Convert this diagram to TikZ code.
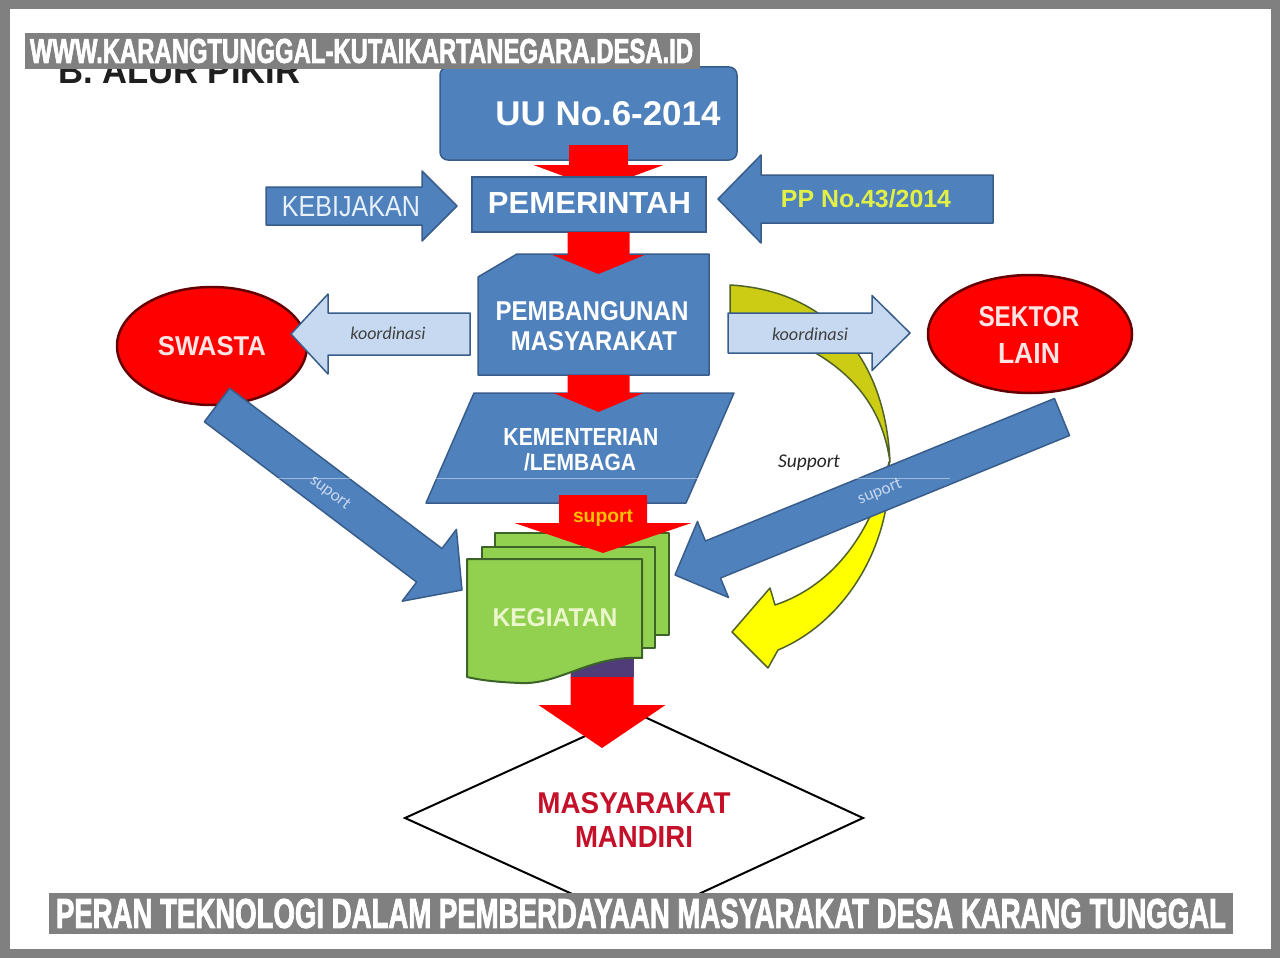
\documentclass[tikz,border=0pt]{standalone}
\usepackage{fontspec}
\usepackage{graphicx}
\setmainfont{Liberation Sans}
\newfontfamily\carl{Carlito}
\newfontfamily\heavy[FakeBold=2.5]{Liberation Sans}
\usetikzlibrary{calc,shapes.geometric}
\definecolor{bfill}{RGB}{79,129,189}
\definecolor{bline}{RGB}{56,93,138}
\definecolor{lbfill}{RGB}{198,217,241}
\definecolor{rfill}{RGB}{255,0,0}
\definecolor{rline}{RGB}{100,0,0}
\definecolor{gfill}{RGB}{146,208,80}
\definecolor{gline}{RGB}{60,100,40}
\definecolor{yfill}{RGB}{255,255,0}
\definecolor{ofill}{RGB}{204,204,20}
\definecolor{yline}{RGB}{79,98,40}
\definecolor{framegray}{RGB}{128,128,128}
\definecolor{mred}{RGB}{196,16,40}
\definecolor{ppy}{RGB}{226,240,70}
\definecolor{supc}{RGB}{255,192,0}
\definecolor{shadeblue}{RGB}{80,60,120}
\newcommand{\fitt}[3]{\resizebox{#1}{#2}{#3}}
% style, start, tip, half shaft, half head, head length
\newcommand{\blockarr}[6]{%
  \coordinate (ba-h) at ($(#3)!#6!(#2)$);
  \path[#1] ($(#2)!#4!90:(#3)$) -- ($(ba-h)!#4!-90:(#2)$) -- ($(ba-h)!#5!-90:(#2)$) -- (#3)
    -- ($(ba-h)!#5!90:(#2)$) -- ($(ba-h)!#4!90:(#2)$) -- ($(#2)!#4!-90:(#3)$) -- cycle;}
\tikzset{
  bluesh/.style={fill=bfill, draw=bline, line width=1.5pt, line join=round},
  bluearr/.style={fill=bfill, draw=bline, line width=1.5pt, line join=round},
  lbarr/.style={fill=lbfill, draw=bline, line width=1.5pt, line join=round},
  redarr/.style={fill=rfill, draw=none},
  greensh/.style={fill=gfill, draw=gline, line width=2pt, line join=round},
  yel/.style={draw=yline, line width=1.5pt, line join=round},
  redell/.style={ellipse, fill=rfill, draw=rline, line width=2.5pt, inner sep=0pt},
  bluebox/.style={rectangle, fill=bfill, draw=bline, line width=1.5pt, inner sep=0pt},
  lbl/.style={inner sep=0pt, anchor=center}
}
\begin{document}
\begin{tikzpicture}[x=1pt,y=-1pt]
\useasboundingbox (0,0) rectangle (1280,958);
\fill[framegray] (0,0) rectangle (1280,958);
\fill[white] (10,9) rectangle (1271,949);

% title under banner
\node[lbl, anchor=base west, text=black!88] (alur) at (58,83) {\fitt{242pt}{25pt}{\bfseries B. ALUR PIKIR}};

% UU box
\node[bluebox, minimum width=297pt, minimum height=93pt, rounded corners=8pt] (uu) at (588.5,113.5) {};
\node[lbl, text=white] (uutxt) at (608,114) {\fitt{225pt}{24pt}{\bfseries UU No.6-2014}};
\blockarr{redarr}{598.5,145}{598.5,189}{29.5pt}{65pt}{24pt}

% PEMERINTAH
\node[bluebox, minimum width=234pt, minimum height=55pt] (pem) at (589,204.5) {};
\node[lbl, text=white] (pemtxt) at (589.5,202.5) {\fitt{203pt}{21pt}{\bfseries PEMERINTAH}};

% KEBIJAKAN and PP arrows
\blockarr{bluearr}{266,206}{457,206}{19pt}{35pt}{35pt}
\node[lbl, text={rgb,255:red,232;green,240;blue,250}] (kebtxt) at (351,207) {\fitt{138pt}{20pt}{KEBIJAKAN}};
\blockarr{bluearr}{993,199}{718,199}{24pt}{44pt}{43pt}
\node[lbl, text=ppy] (pptxt) at (866,199) {\fitt{170pt}{18pt}{\bfseries PP No.43/2014}};

% PEMBANGUNAN MASYARAKAT
\draw[bluesh] (478,277) -- (517,254) -- (709,254) -- (709,375) -- (478,375) -- cycle;
\blockarr{redarr}{598.5,232}{598.5,274}{31pt}{46pt}{19pt}
\node[lbl, text=white] (pb1) at (592,311) {\fitt{193pt}{19pt}{\bfseries PEMBANGUNAN}};
\node[lbl, text=white] (pb2) at (594,341) {\fitt{166pt}{19pt}{\bfseries MASYARAKAT}};

% yellow curved arrow
\draw[yel, fill=ofill] (730,285) .. controls (820,290) and (885,350) .. (890,462)
   .. controls (880,390) and (830,345) .. (730,320) -- cycle;
\draw[yel, fill=yfill] (889,462) .. controls (893,545) and (845,622) .. (778,650)
   -- (768,668) -- (732,632) -- (770,588) -- (775,605)
   .. controls (835,585) and (873,530) .. (889,462) -- cycle;
\node[lbl, text=black!85] (supp) at (809,463) {\fitt{62pt}{!}{\carl\itshape Support}};

% ellipses
\node[redell, minimum width=190pt, minimum height=118pt] (swasta) at (212,346) {};
\node[lbl, text={rgb,255:red,255;green,228;blue,228}] (swtxt) at (212,346) {\fitt{108pt}{19pt}{\bfseries SWASTA}};
\node[redell, minimum width=204pt, minimum height=118pt] (sektor) at (1030,334) {};
\node[lbl, text={rgb,255:red,255;green,228;blue,228}] (sk1) at (1029,317) {\fitt{101pt}{20pt}{\bfseries SEKTOR}};
\node[lbl, text={rgb,255:red,255;green,228;blue,228}] (sk2) at (1029,353) {\fitt{62pt}{20pt}{\bfseries LAIN}};

% koordinasi arrows
\blockarr{lbarr}{470,334}{291,334}{21pt}{40pt}{37pt}
\node[lbl, text=black!75] (ko1) at (388,333) {\fitt{75pt}{!}{\carl\itshape koordinasi}};
\blockarr{lbarr}{728,333}{910,333}{20pt}{37.5pt}{38pt}
\node[lbl, text=black!75] (ko2) at (810,334) {\fitt{76pt}{!}{\carl\itshape koordinasi}};

% KEMENTERIAN
\draw[bluesh] (474,393) -- (734,393) -- (686,503) -- (426,503) -- cycle;
\blockarr{redarr}{598.5,375}{598.5,412}{31pt}{45pt}{19pt}
\node[lbl, text=white] (km1) at (581,437) {\fitt{155pt}{17pt}{\bfseries KEMENTERIAN}};
\node[lbl, text=white] (km2) at (580,462) {\fitt{112pt}{17pt}{\bfseries /LEMBAGA}};

% diamond
\draw[line width=2pt, fill=white, line join=miter] (405,818) -- (636,713) -- (863,818) -- (636,923) -- cycle;
\node[lbl, text=mred] (md1) at (634,803) {\fitt{193pt}{21pt}{\bfseries MASYARAKAT}};
\node[lbl, text=mred] (md2) at (634,837) {\fitt{118pt}{21pt}{\bfseries MANDIRI}};
\blockarr{redarr}{602,655}{602,748}{31.5pt}{63.5pt}{43pt}
\fill[shadeblue] (570.5,655) rectangle (633.5,677);

% KEGIATAN stack
\draw[greensh] (495,533) rectangle (669,635);
\draw[greensh] (482,547) rectangle (655,648);
\draw[greensh] (467,559) -- (642,559) -- (642,658) .. controls (590,655) and (560,685) .. (520,683)
   .. controls (495,682) and (480,680) .. (467,677) -- cycle;
\node[lbl, text={rgb,255:red,236;green,246;blue,205}] (keg) at (555,618) {\fitt{125pt}{18pt}{\bfseries KEGIATAN}};
\blockarr{redarr}{603,495}{603,553}{44pt}{88.5pt}{30pt}
\node[lbl, text=supc] (sup1) at (603,518) {\fitt{60pt}{!}{\bfseries suport}};

% support arrows
\blockarr{bluearr}{217,405}{462,590}{21pt}{45pt}{41pt}
\node[lbl, text={rgb,255:red,200;green,215;blue,240}, rotate=-37] (sup2) at (330,493) {\fitt{46pt}{!}{\carl suport}};
\blockarr{bluearr}{1062,417}{675,575}{20pt}{41pt}{41pt}
\node[lbl, text={rgb,255:red,200;green,215;blue,240}, rotate=22] (sup3) at (880,492) {\fitt{46pt}{!}{\carl suport}};

% faint slide line
\draw[white, opacity=0.45, line width=0.8pt] (275,478) -- (950,478);

% banners
\fill[framegray] (25,33) rectangle (700,69);
\node[lbl, text=white] (top) at (361.5,51) {\fitt{663pt}{24pt}{\heavy\bfseries WWW.KARANGTUNGGAL-KUTAIKARTANEGARA.DESA.ID}};
\fill[framegray] (49,893) rectangle (1233,934);
\node[lbl, text=white] (bottom) at (641,913.5) {\fitt{1170pt}{29pt}{\heavy\bfseries PERAN TEKNOLOGI DALAM PEMBERDAYAAN MASYARAKAT DESA KARANG TUNGGAL}};
\end{tikzpicture}
\end{document}
